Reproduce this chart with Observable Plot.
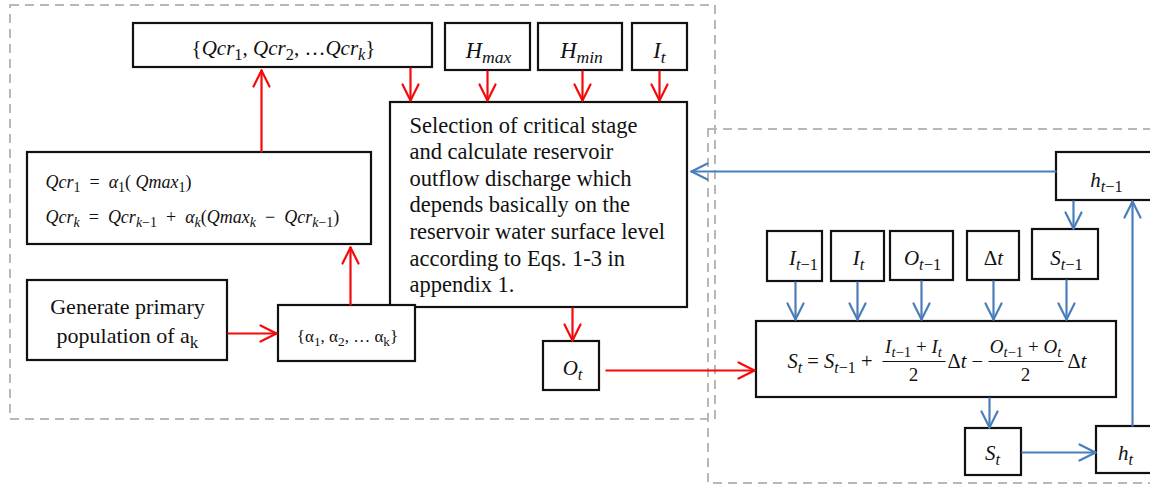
<!DOCTYPE html>
<html>
<head>
<meta charset="utf-8">
<script src="https://cdn.jsdelivr.net/npm/d3@7"></script>
<script src="https://cdn.jsdelivr.net/npm/@observablehq/plot@0.6"></script>
<style>
  html, body { margin: 0; padding: 0; background: #ffffff; }
  #chart { width: 1150px; height: 487px; overflow: hidden; }
</style>
</head>
<body>
<div id="chart"></div>
<script>
// ---------- diagram data ----------
// dashed group frames
const regions = [
  {x1: 10, y1: 5, x2: 715, y2: 419},
  {x1: 708, y1: 129, x2: 1153, y2: 483}
];

// boxes of the flow chart
const boxes = [
  {id: "qcrSet",  x1: 133, y1: 23,  x2: 432, y2: 67},
  {id: "hmax",    x1: 445, y1: 23,  x2: 530, y2: 70},
  {id: "hmin",    x1: 538, y1: 23,  x2: 622, y2: 70},
  {id: "it",      x1: 632, y1: 23,  x2: 687, y2: 70},
  {id: "main",    x1: 390, y1: 102, x2: 687, y2: 307},
  {id: "qcrEq",   x1: 27,  y1: 152, x2: 371, y2: 244},
  {id: "gen",     x1: 27,  y1: 280, x2: 227, y2: 360},
  {id: "alpha",   x1: 278, y1: 305, x2: 415, y2: 361},
  {id: "ot",      x1: 543, y1: 341, x2: 599, y2: 390},
  {id: "htm1",    x1: 1056, y1: 152, x2: 1165, y2: 200},
  {id: "itm1",    x1: 767, y1: 231, x2: 822, y2: 281},
  {id: "it2",     x1: 831, y1: 231, x2: 884, y2: 281},
  {id: "otm1",    x1: 890, y1: 231, x2: 953, y2: 280},
  {id: "dt",      x1: 967, y1: 231, x2: 1019, y2: 280},
  {id: "stm1",    x1: 1032, y1: 229, x2: 1098, y2: 279},
  {id: "stEq",    x1: 756, y1: 321, x2: 1116, y2: 397},
  {id: "st",      x1: 965, y1: 428, x2: 1021, y2: 475},
  {id: "ht",      x1: 1096, y1: 426, x2: 1165, y2: 473}
];

// arrows (from -> tip)
const redArrows = [
  {x1: 261, y1: 152, x2: 261, y2: 70},
  {x1: 410, y1: 67,  x2: 410, y2: 100},
  {x1: 487, y1: 70,  x2: 487, y2: 100},
  {x1: 582, y1: 70,  x2: 582, y2: 100},
  {x1: 659, y1: 70,  x2: 659, y2: 100},
  {x1: 350, y1: 305, x2: 350, y2: 247},
  {x1: 227, y1: 333, x2: 276, y2: 333},
  {x1: 572, y1: 307, x2: 572, y2: 340},
  {x1: 605, y1: 370, x2: 754, y2: 370}
];
const blueArrows = [
  {x1: 1056, y1: 171, x2: 691, y2: 171},
  {x1: 1073, y1: 200, x2: 1073, y2: 228},
  {x1: 795,  y1: 281, x2: 795,  y2: 319},
  {x1: 857,  y1: 281, x2: 857,  y2: 319},
  {x1: 921,  y1: 280, x2: 921,  y2: 319},
  {x1: 993,  y1: 280, x2: 993,  y2: 319},
  {x1: 1066, y1: 279, x2: 1066, y2: 319},
  {x1: 989,  y1: 397, x2: 989,  y2: 427},
  {x1: 1021, y1: 452, x2: 1095, y2: 452},
  {x1: 1132, y1: 426, x2: 1132, y2: 201}
];

// labels ( _{...} marks a subscript )
const mainLines = [
  "Selection of critical stage",
  "and calculate reservoir",
  "outflow discharge which",
  "depends basically on the",
  "reservoir water surface level",
  "according to Eqs. 1-3 in",
  "appendix 1."
];
const genLines = ["Generate primary", "population of a_{k}"];
const alphaLabel = ["{α_{1}, α_{2}, … α_{k}}"];
const qcrSetLabel = ["{Qcr_{1}, Qcr_{2}, …Qcr_{k}}"];
const qcrEqLines = ["Qcr_{1} = α_{1}( Qmax_{1})", "Qcr_{k} = Qcr_{k−1} + α_{k}(Qmax_{k} − Qcr_{k−1})"];
const topInputs = ["H_{max}", "H_{min}", "I_{t}"];
const sideInputs = ["I_{t−1}", "I_{t}", "O_{t−1}", "Δt", "S_{t−1}"];
const otLabel = ["O_{t}"];
const htm1Label = ["h_{t−1}"];
const stLabel = ["S_{t}"];
const htLabel = ["h_{t}"];
const stEqParts = ["S_{t} = S_{t−1} +", "Δt −", "Δt"];
const fracNums = ["I_{t−1} + I_{t}", "O_{t−1} + O_{t}"];
const fracDens = ["2", "2"];

// ---------- layout anchors for labels ----------
const mainLabelRows = mainLines.map((t, i) => ({t, x: 409, y: 132 + i * 26.6}));
const genRows = genLines.map((t, i) => ({t, x: 127, y: 313 + i * 29}));
const alphaRows = alphaLabel.map(t => ({t, x: 347, y: 341}));
const qcrSetRows = qcrSetLabel.map(t => ({t, x: 283, y: 54}));
const qcrEqRows = qcrEqLines.map((t, i) => ({t, x: 45, y: 187 + i * 35}));
const topInputRows = topInputs.map((t, i) => ({t, x: [488, 581, 659][i], y: 57}));
const sideInputRows = sideInputs.map((t, i) => ({t, x: [803, 858, 922, 993, 1066][i], y: 264}));
const singleRows = [
  {t: otLabel[0], x: 572, y: 374},
  {t: htm1Label[0], x: 1106, y: 186},
  {t: stLabel[0], x: 992, y: 459},
  {t: htLabel[0], x: 1125, y: 459}
];
const stEqRows = stEqParts.map((t, i) => ({t, x: [787, 947, 1067][i], y: 367}));
const fracNumRows = fracNums.map((t, i) => ({t, x: [913, 1025][i], y: 352}));
const fracDenRows = fracDens.map((t, i) => ({t, x: [913, 1025][i], y: 380}));
const fracBars = [{x1: 882, x2: 945, y: 361}, {x1: 988, x2: 1063, y: 361}];

// ---------- helpers ----------
function wings(arrows, L = 16, Wd = 8) {
  const out = [];
  for (const e of arrows) {
    const dx = e.x2 - e.x1, dy = e.y2 - e.y1, len = Math.hypot(dx, dy);
    const ux = dx / len, uy = dy / len, px = -uy, py = ux;
    out.push({x1: e.x2, y1: e.y2, x2: e.x2 - ux * L + px * Wd, y2: e.y2 - uy * L + py * Wd});
    out.push({x1: e.x2, y1: e.y2, x2: e.x2 - ux * L - px * Wd, y2: e.y2 - uy * L - py * Wd});
  }
  return out;
}
const SERIF = "'Liberation Serif', 'Times New Roman', Times, serif";
const textStyles = {};
let tcount = 0;
function label(rows, {size, anchor = "middle", math = true, ops = false}) {
  const cls = "lbl" + (tcount++);
  textStyles[cls] = {size, math, ops};
  return Plot.text(rows, {
    x: "x", y: "y", text: "t", textAnchor: anchor, lineAnchor: "bottom",
    fontSize: size, fontFamily: SERIF, fill: "#111", className: cls
  });
}

const RED = "#f50a0a", BLUE = "#4a7ebb";

const chart = Plot.plot({
  width: 1150, height: 487,
  margin: 0,
  x: {domain: [0, 1150], range: [0, 1150], axis: null},
  y: {domain: [0, 487], range: [0, 487], axis: null},
  style: {background: "#ffffff", fontFamily: SERIF},
  marks: [
    Plot.rect(regions, {x1: "x1", x2: "x2", y1: "y1", y2: "y2", fill: "none", stroke: "#b8b8b8", strokeWidth: 2, strokeDasharray: "9,6"}),
    Plot.rect(boxes, {x1: "x1", x2: "x2", y1: "y1", y2: "y2", fill: "#ffffff", stroke: "#111", strokeWidth: 2.2}),
    Plot.link(redArrows, {x1: "x1", y1: "y1", x2: "x2", y2: "y2", stroke: RED, strokeWidth: 2.2}),
    Plot.link(wings(redArrows), {x1: "x1", y1: "y1", x2: "x2", y2: "y2", stroke: RED, strokeWidth: 2.2, strokeLinecap: "round"}),
    Plot.link(blueArrows, {x1: "x1", y1: "y1", x2: "x2", y2: "y2", stroke: BLUE, strokeWidth: 2.2}),
    Plot.link(wings(blueArrows), {x1: "x1", y1: "y1", x2: "x2", y2: "y2", stroke: BLUE, strokeWidth: 2.2, strokeLinecap: "round"}),
    Plot.link(fracBars, {x1: "x1", x2: "x2", y1: "y", y2: "y", stroke: "#111", strokeWidth: 1.2}),
    label(mainLabelRows, {size: 22.5, anchor: "start", math: false}),
    label(genRows, {size: 22, math: false}),
    label(alphaRows, {size: 17, math: false}),
    label(qcrSetRows, {size: 21}),
    label(qcrEqRows, {size: 18, anchor: "start", ops: true}),
    label(topInputRows, {size: 22.5}),
    label(sideInputRows, {size: 21}),
    label(singleRows, {size: 21}),
    label(stEqRows, {size: 20.5, anchor: "start"}),
    label(fracNumRows, {size: 19}),
    label(fracDenRows, {size: 19})
  ]
});
document.getElementById("chart").appendChild(chart);

// ---------- rich text: subscripts and math italics ----------
function parse(s) {
  const out = []; let buf = "", i = 0;
  while (i < s.length) {
    if (s[i] === "_" && s[i + 1] === "{") {
      if (buf) out.push({t: buf, sub: false});
      buf = "";
      const j = s.indexOf("}", i);
      out.push({t: s.slice(i + 2, j), sub: true});
      i = j + 1;
    } else { buf += s[i]; i++; }
  }
  if (buf) out.push({t: buf, sub: false});
  return out;
}
const NS = "http://www.w3.org/2000/svg";
for (const cls of Object.keys(textStyles)) {
  const {size, math, ops} = textStyles[cls];
  chart.querySelectorAll("g." + cls + " text").forEach(el => {
    let raw = el.textContent;
    if (!raw.includes("_{") && !math) return;
    // equation-editor spacing around binary operators
    if (ops) raw = raw.replace(/ ([=+−]) /g, "\u2002$1\u2002");
    const segs = parse(raw);
    el.textContent = "";
    let shifted = false;
    const shift = size * 0.26;
    for (const seg of segs) {
      const runs = math ? (seg.t.match(/[A-Za-zα]+|[^A-Za-zα]+/g) || []) : [seg.t];
      runs.forEach(r => {
        const ts = document.createElementNS(NS, "tspan");
        ts.textContent = r;
        if (math && /[A-Za-zα]/.test(r)) ts.setAttribute("font-style", "italic");
        if (seg.sub) ts.setAttribute("font-size", (size * 0.78).toFixed(1));
        if (seg.sub && !shifted) { ts.setAttribute("dy", shift); shifted = true; }
        else if (!seg.sub && shifted) { ts.setAttribute("dy", -shift); shifted = false; }
        el.appendChild(ts);
      });
    }
  });
}
</script>
</body>
</html>
